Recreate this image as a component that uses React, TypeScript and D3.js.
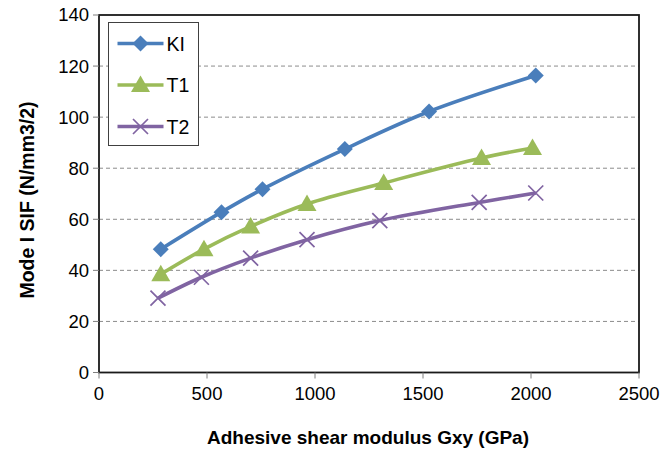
import React from "react";
import * as d3 from "d3";

const xTicks = [0, 500, 1000, 1500, 2000, 2500];
const yTicks = [0, 20, 40, 60, 80, 100, 120, 140];

const kiX = [286, 567, 757, 1138, 1528, 2022];
const kiY = [48.3, 62.8, 71.8, 87.5, 102.2, 116.3];
const t1X = [286, 486, 702, 963, 1318, 1771, 2007];
const t1Y = [38.5, 48.3, 57.2, 66.0, 74.2, 84.0, 87.9];
const t2X = [273, 474, 702, 963, 1300, 1760, 2022];
const t2Y = [29.1, 37.3, 44.8, 52.0, 59.5, 66.6, 70.3];

const series = [
  { name: "KI", xs: kiX, ys: kiY, color: "#4A7EBB", marker: "diamond" },
  { name: "T1", xs: t1X, ys: t1Y, color: "#9BBB59", marker: "triangle" },
  { name: "T2", xs: t2X, ys: t2Y, color: "#8064A2", marker: "x" },
];

const font = "'Liberation Sans', Arial, sans-serif";

function Marker({ type, cx, cy, color }: { type: string; cx: number; cy: number; color: string }) {
  if (type === "diamond") {
    const r = 8;
    return <path d={`M${cx},${cy - r}L${cx + r},${cy}L${cx},${cy + r}L${cx - r},${cy}Z`} fill={color} />;
  }
  if (type === "triangle") {
    return <path d={`M${cx},${cy - 9.5}L${cx + 9.5},${cy + 7}L${cx - 9.5},${cy + 7}Z`} fill={color} />;
  }
  const r = 7.5;
  return (
    <path
      d={`M${cx - r},${cy - r}L${cx + r},${cy + r}M${cx - r},${cy + r}L${cx + r},${cy - r}`}
      stroke={color}
      strokeWidth={1.7}
      fill="none"
    />
  );
}

export default function App() {
  const width = 665,
    height = 452;
  const margin = { top: 15, right: 26, bottom: 79.5, left: 99 };
  const innerW = width - margin.left - margin.right;
  const innerH = height - margin.top - margin.bottom;

  const x = d3.scaleLinear().domain([0, 2500]).range([0, innerW]);
  const y = d3.scaleLinear().domain([0, 140]).range([innerH, 0]);

  return (
    <svg
      width={width}
      height={height}
      style={{ position: "absolute", left: 0, top: 0, background: "#fff" }}
    >
      <g transform={`translate(${margin.left},${margin.top})`}>
        {yTicks.slice(1, -1).map(t => (
          <line
            key={t}
            x1={0}
            x2={innerW}
            y1={y(t)}
            y2={y(t)}
            stroke="#8c8c8c"
            strokeDasharray="4,3"
            strokeWidth={1}
          />
        ))}
        <rect x={0} y={0} width={innerW} height={innerH} fill="none" stroke="#1a1a1a" strokeWidth={1.8} />

        {yTicks.map(t => (
          <g key={t} transform={`translate(0,${y(t)})`}>
            <line x1={-6} x2={0} stroke="#7f7f7f" />
            <text x={-10} dy="0.35em" textAnchor="end" fontFamily={font} fontSize={18.5} fill="#000">
              {t}
            </text>
          </g>
        ))}
        {xTicks.map(t => (
          <g key={t} transform={`translate(${x(t)},${innerH})`}>
            <line y1={0} y2={6} stroke="#7f7f7f" />
            <text y={27} textAnchor="middle" fontFamily={font} fontSize={18.5} fill="#000">
              {t}
            </text>
          </g>
        ))}

        {series.map(s => {
          const pts = s.xs.map((v, i) => [x(v), y(s.ys[i])] as [number, number]);
          return (
            <g key={s.name}>
              <path
                d={d3.line().curve(d3.curveCatmullRom.alpha(0.5))(pts) || ""}
                fill="none"
                stroke={s.color}
                strokeWidth={3.6}
              />
              {pts.map((p, i) => (
                <Marker key={i} type={s.marker} cx={p[0]} cy={p[1]} color={s.color} />
              ))}
            </g>
          );
        })}

        <g transform={`translate(${108.5 - margin.left},${22.5 - margin.top})`}>
          <rect x={0} y={0} width={90} height={123} fill="#fff" stroke="#404040" strokeWidth={1} />
          {series.map((s, i) => {
            const cy = 21 + i * 41.5;
            return (
              <g key={s.name}>
                <line x1={9} x2={55} y1={cy} y2={cy} stroke={s.color} strokeWidth={3.6} />
                <Marker type={s.marker} cx={32} cy={cy} color={s.color} />
                <text x={58} y={cy} dy="0.36em" fontFamily={font} fontSize={19.5} fill="#000">
                  {s.name}
                </text>
              </g>
            );
          })}
        </g>
      </g>

      <text
        x={368}
        y={444}
        textAnchor="middle"
        fontFamily={font}
        fontWeight="bold"
        fontSize={19}
        fill="#000"
      >
        Adhesive shear modulus Gxy (GPa)
      </text>
      <text
        transform={`translate(34,200) rotate(-90)`}
        textAnchor="middle"
        fontFamily={font}
        fontWeight="bold"
        fontSize={19.5}
        fill="#000"
      >
        Mode I SIF (N/mm3/2)
      </text>
    </svg>
  );
}
